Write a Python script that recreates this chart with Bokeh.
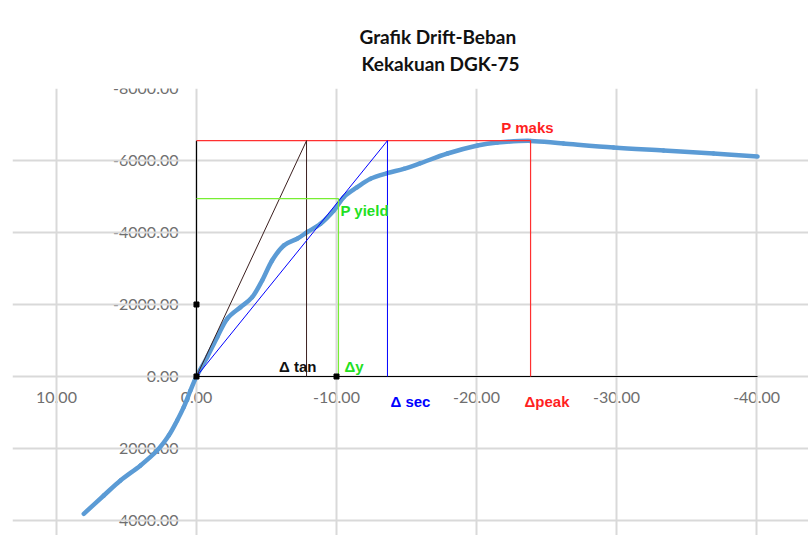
from bokeh.plotting import figure
from bokeh.models import Range1d, LinearAxis, Grid, FixedTicker, Title
from bokeh.core.properties import value
from bokeh.embed import file_html
from bokeh.resources import INLINE

# ---- data (drift vs load) ----
drift = [8.05, 6.62, 5.43, 4.00, 2.81, 1.98, 1.38, 0.91, 0.43, 0.0,
         -0.76, -1.48, -2.19, -3.14, -3.98, -4.69, -5.40, -6.24, -7.19, -7.90,
         -8.86, -9.81, -10.52, -11.48, -12.43, -13.62, -14.81, -16.00, -17.93,
         -20.07, -21.50, -23.86, -26.21, -29.79, -33.36, -36.93, -40.07]
load = [3814, 3306, 2889, 2470, 2056, 1639, 1222, 853, 389, 0,
        -536, -1092, -1603, -1925, -2203, -2667, -3222, -3639, -3825, -4008,
        -4242, -4611, -4981, -5258, -5492, -5647, -5769, -5925, -6194,
        -6417, -6500, -6545, -6472, -6361, -6278, -6194, -6111]

p_maks = -6550
d_peak = -23.86
p_yield = -4940
d_y = -10.14
d_tan = -7.86
d_sec = -13.64

mark_x = [0, 0, -10]
mark_y = [0, -2000, 0]

x_ticks = [10, 0, -10, -20, -30, -40]
x_tick_labels = ["10.00", "0.00", "-10.00", "-20.00", "-30.00", "-40.00"]
y_ticks = [-8000, -6000, -4000, -2000, 0, 2000, 4000]
y_tick_labels = ["-8000.00", "-6000.00", "-4000.00", "-2000.00", "0.00", "2000.00", "4000.00"]

title_lines = ["Grafik Drift-Beban", "Kekakuan DGK-75"]

# ---- figure ----
W, H = 808, 535
p = figure(width=W, height=H, output_backend="svg", toolbar_location=None,
           x_range=Range1d(13.14, -43.71), y_range=Range1d(4417, -8000),
           x_axis_type=None, y_axis_type=None,
           min_border_left=12, min_border_right=0, min_border_top=88, min_border_bottom=0)
p.outline_line_color = None
p.background_fill_color = "white"
p.border_fill_color = "white"

# title: two centred lines (second line nearest the plot)
p.add_layout(Title(text=title_lines[1], align="left", offset=349, standoff=28,
                   text_font="Lato", text_font_style="bold", text_font_size="19px",
                   text_color="#111111"), "above")
p.add_layout(Title(text=title_lines[0], align="left", offset=347, standoff=-25,
                   text_font="Lato", text_font_style="bold", text_font_size="19px",
                   text_color="#111111"), "above")

xt = FixedTicker(ticks=x_ticks)
yt = FixedTicker(ticks=y_ticks)
p.add_layout(Grid(dimension=0, ticker=xt, grid_line_color="#d9d9d9", grid_line_width=2))
p.add_layout(Grid(dimension=1, ticker=yt, grid_line_color="#d9d9d9", grid_line_width=2))

lbl_font = "Lato"
xaxis = LinearAxis(ticker=xt, fixed_location=0,
                   major_label_overrides={t: l for t, l in zip(x_ticks, x_tick_labels)},
                   axis_line_color=None, major_tick_line_color=None, minor_tick_line_color=None,
                   major_tick_out=0, major_tick_in=0, major_label_standoff=16,
                   major_label_text_font=lbl_font, major_label_text_font_size="16px",
                   major_label_text_color="#6f6f6f", level="underlay")
yaxis = LinearAxis(ticker=yt, fixed_location=0,
                   major_label_overrides={t: l for t, l in zip(y_ticks, y_tick_labels)},
                   axis_line_color=None, major_tick_line_color=None, minor_tick_line_color=None,
                   major_tick_out=0, major_tick_in=0, major_label_standoff=18,
                   major_label_text_font=lbl_font, major_label_text_font_size="16px",
                   major_label_text_color="#6f6f6f", level="underlay")
p.add_layout(xaxis, "below")
p.add_layout(yaxis, "left")

# main curve, drawn as a smoothed line (Catmull-Rom -> Bezier control points, like Excel)
n = len(drift)
x0, y0, x1, y1, cx0, cy0, cx1, cy1 = ([] for _ in range(8))
for i in range(n - 1):
    a = max(i - 1, 0)
    b = min(i + 2, n - 1)
    x0.append(drift[i]); y0.append(load[i])
    x1.append(drift[i + 1]); y1.append(load[i + 1])
    cx0.append(drift[i] + (drift[i + 1] - drift[a]) / 6.0)
    cy0.append(load[i] + (load[i + 1] - load[a]) / 6.0)
    cx1.append(drift[i + 1] - (drift[b] - drift[i]) / 6.0)
    cy1.append(load[i + 1] - (load[b] - load[i]) / 6.0)
p.bezier(x0=x0, y0=y0, x1=x1, y1=y1, cx0=cx0, cy0=cy0, cx1=cx1, cy1=cy1,
         line_color="#5B9BD5", line_width=4.5, line_cap="round")

# construction lines
p.line([0, 0, drift[-1]], [p_maks, 0, 0], line_color="black", line_width=1.2)
p.line([0, d_peak, d_peak], [p_maks, p_maks, 0], line_color="#ff3030", line_width=1.2)
p.line([0, d_tan, d_tan], [0, p_maks, 0], line_color="#3b1f1f", line_width=1)
p.line([0, d_sec, d_sec], [0, p_maks, 0], line_color="#0000ff", line_width=1)
p.line([0, d_y, d_y], [p_yield, p_yield, 0], line_color="#77ee33", line_width=1.2)
p.scatter(mark_x, mark_y, marker="square", size=5, fill_color="black", line_color="black")

# annotations tied to the values
lab_font = value("Liberation Sans")
def tag(x, y, txt, color, align, xo, yo):
    p.text([x], [y], text=[txt], text_color=color, text_font=lab_font,
           text_font_size="15px", text_font_style="bold", text_align=align,
           text_baseline="middle", x_offset=xo, y_offset=yo)

tag(d_peak, p_maks, "P maks", "#ff1f1f", "center", -3, -13)
tag(d_y, p_yield, "P yield", "#22e022", "left", 2, 12)
tag(d_tan, 0, "\u0394 tan", "#111111", "right", 10, -10)
tag(d_y, 0, "\u0394y", "#22e022", "left", 6, -10)
tag(d_sec, 0, "\u0394 sec", "#0000ff", "left", 3, 25)
tag(d_peak, 0, "\u0394peak", "#ff1f1f", "left", -6, 25)

open("out.html", "w").write(file_html(p, INLINE))
